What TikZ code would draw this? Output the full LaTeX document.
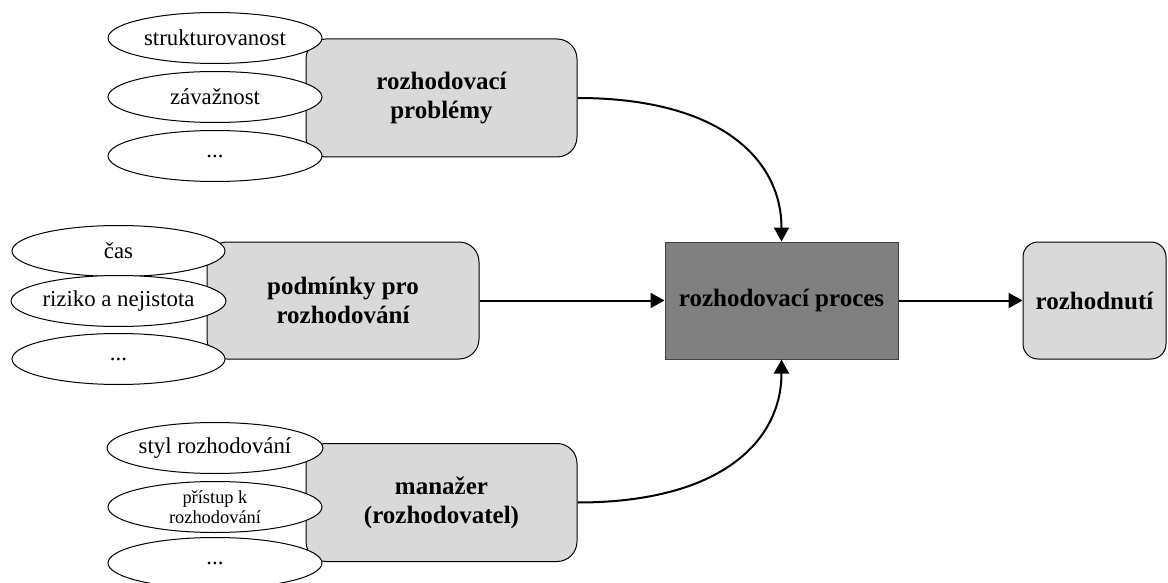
\documentclass[tikz,border=0pt]{standalone}
\usepackage{fontspec}
\setmainfont{Liberation Serif}
\usetikzlibrary{arrows.meta, shapes.geometric}
\definecolor{boxgray}{RGB}{217,217,217}
\definecolor{procgray}{RGB}{128,128,128}
\definecolor{procedge}{RGB}{64,64,64}

\begin{document}
\begin{tikzpicture}[x=1pt, y=-1pt,
   every node/.style={font=\fontsize{22.8}{26}\selectfont},
   area/.style={draw, fill=boxgray, rounded corners=20pt, line width=1pt,
                minimum width=271pt, minimum height=118pt, align=center,
                font=\fontsize{25}{29}\selectfont\bfseries},
   procbox/.style={draw=procedge, fill=procgray, line width=1pt,
                minimum width=233pt, minimum height=117pt,
                font=\fontsize{25}{29}\selectfont\bfseries},
   factor/.style={draw, fill=white, ellipse, line width=1pt, inner sep=0pt,
                  minimum width=214pt, minimum height=51pt, align=center},
   flow/.style={-{Triangle[length=14pt, width=15pt]}, line width=2pt}]
  \useasboundingbox (0,0) rectangle (1168,583);

  % main boxes
  \node[area] (prob) at (441.5,98) {rozhodovací\\problémy};
  \node[area, minimum width=272pt, minimum height=117pt] (cond) at (343,300.5)
       {podmínky pro\\rozhodování};
  \node[area] (mgr) at (441.5,502.5) {manažer\\(rozhodovatel)};
  \node[procbox] (proc) at (781.5,300.5) {rozhodovací proces};
  \node[area, minimum width=143pt, minimum height=117pt, rounded corners=15pt]
       (dec) at (1094.5,300.5) {rozhodnutí};

  % factors
  \node[factor] (prob1) at (215,38) {strukturovanost};
  \node[factor] (prob2) at (215,97) {závažnost};
  \node[factor] (prob3) at (215,156) {...};

  \node[factor, minimum width=213pt] (cond1) at (118.5,251) {čas};
  \node[factor, minimum width=213pt] (cond2) at (118.5,301) {riziko a nejistota};
  \node[factor, minimum width=213pt] (cond3) at (118.5,359) {...};

  \node[factor] (mgr1) at (215,448) {styl rozhodování};
  \node[factor, font=\fontsize{18.4}{20}\selectfont] (mgr2) at (215,507)
       {přístup k\\rozhodování};
  \node[factor] (mgr3) at (215,563) {...};

  % flows
  \draw[flow] (prob.east) .. controls +(143,0) and +(0,-82) .. (proc.north);
  \draw[flow] (mgr.east) .. controls +(143,0) and +(0,82) .. (proc.south);
  \draw[flow] (cond) -- (proc);
  \draw[flow] (proc) -- (dec);
\end{tikzpicture}
\end{document}
